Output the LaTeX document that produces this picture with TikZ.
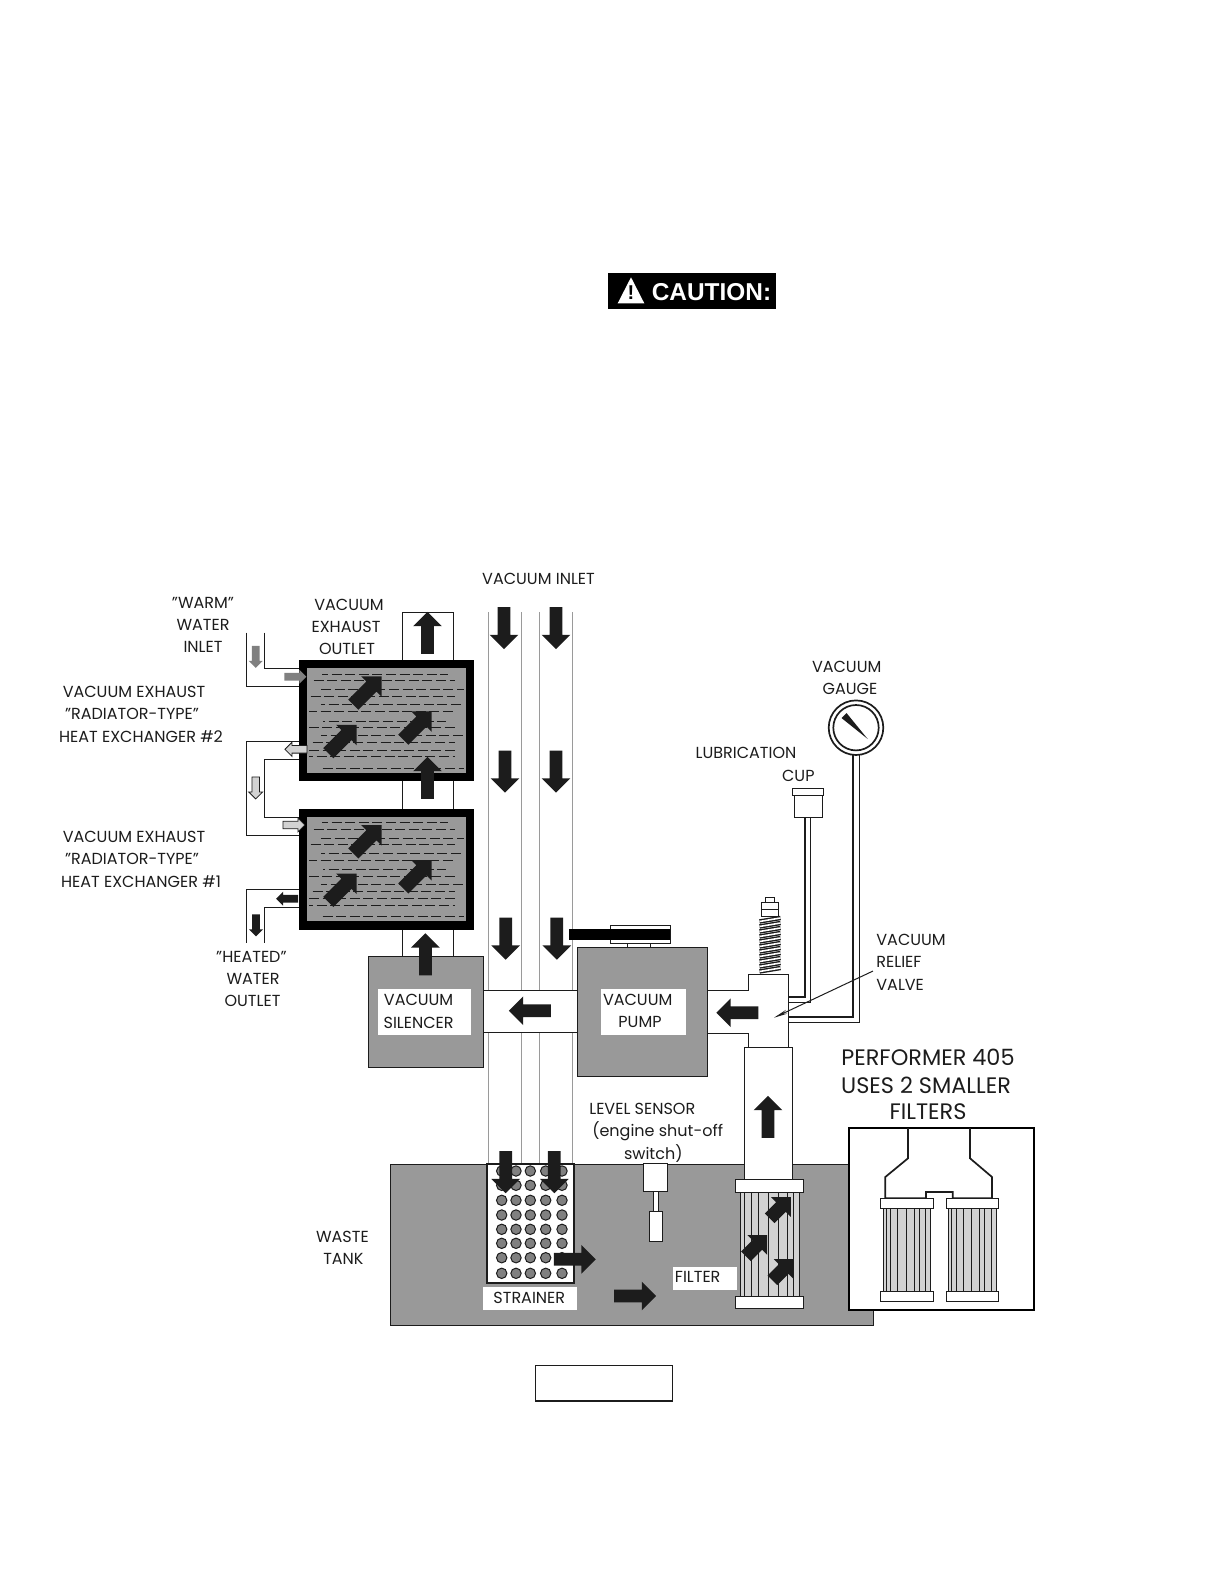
\documentclass[tikz,border=0pt]{standalone}
\usepackage{fontspec}
\setmainfont{Poppins}
\newfontfamily\cautionfont{Liberation Sans}
\usetikzlibrary{arrows.meta, positioning, shapes.arrows}
\definecolor{tankgray}{HTML}{999999}
\definecolor{inkdark}{HTML}{1C1C1C}
\definecolor{pipegray}{HTML}{9A9A9A}
\definecolor{elemgray}{HTML}{D2D2D2}
\definecolor{dotgray}{HTML}{808080}

\begin{document}
\begin{tikzpicture}[x=0.5pt, y=-0.5pt, line join=miter]
    \tikzstyle{lbl} = [inner sep=0pt, text=inkdark, font=\fontsize{8}{10}\selectfont]
    \tikzstyle{biglbl} = [lbl, font=\fontsize{11.2}{13}\selectfont]
    \tikzstyle{flow} = [xshift=-1.5pt, single arrow, fill=inkdark, inner xsep=0pt, inner ysep=3pt, outer sep=0pt, minimum width=14pt, minimum height=21pt, single arrow head extend=4pt]
    \tikzstyle{diagflow} = [rotate=45, flow, inner ysep=3.4pt, single arrow head extend=3.6pt, minimum height=20pt]
    \tikzstyle{smallflow} = [single arrow, inner xsep=0pt, inner ysep=1.7pt, outer sep=0pt, minimum width=6.5pt, minimum height=11pt, single arrow head extend=1.6pt]
    \tikzstyle{line1} = [draw=inkdark, line width=0.5pt]
    \tikzstyle{line2} = [draw=inkdark, line width=0.85pt]
    \tikzstyle{tube} = [draw=pipegray, line width=0.5pt]
    \tikzstyle{hxbox} = [draw=black, fill=tankgray, line width=4.2pt]
    \useasboundingbox (0,0) rectangle (1224,1584);
    % caution flag
    \fill[black] (608.3,273.3) rectangle (775.7,309);
    \fill[white] (631,277.3) -- (644.3,303.3) -- (617.7,303.3) -- cycle;
    \node[inner sep=0pt, font=\cautionfont\bfseries\fontsize{10}{11}\selectfont] (bang) at (631,293) {!};
    \node[inner sep=0pt, text=white, font=\cautionfont\bfseries\fontsize{12.2}{14}\selectfont] (caution) at (711.5,292.5) {CAUTION:};
    % waste tank
    \draw[line1, fill=tankgray] (390,1164) rectangle (873,1325.5);
    % vacuum inlet tubes
    \foreach \x in {488.6,521.4,539,572} \draw[tube] (\x,612) -- (\x,1164);
    % exhaust tube
    \draw[line1, fill=white] (402.5,956) -- (402.5,612) -- (453,612) -- (453,956);
    % heat exchangers
    \foreach \n/\o in {2/0,1/148.7} {
        \draw[hxbox] (303,664.2+\o) rectangle (470,776.8+\o);
        \foreach \r/\a/\b/\p in {14/322/448/2,20.7/310/455/5,29.3/321/464/0,36/309/455/6,44.3/321/464/3,51.7/309/455/1,61/323/446/4,67.7/309/455/7,75.7/321/464/2,82.7/309/455/5,90/309/455/0,96.7/309/455/3,108/321/464/6}
            \draw[inkdark, line width=0.4pt, dash pattern=on 5pt off 1.8pt, dash phase=\p pt] (\a,660+\o+\r) -- (\b,660+\o+\r);
        \foreach \i/\x/\y in {a/367/691,b/342/739.5,c/417/726}
            \node[diagflow] (hx\n\i) at (\x,\y+\o) {};
    }
    % water lines
    \draw[line1] (246,632.7) -- (246,686.7) -- (298.6,686.7);
    \draw[line1] (264.6,632.7) -- (264.6,668.3) -- (298.6,668.3);
    \draw[line1] (298.6,741) -- (246,741) -- (246,835.7) -- (298.6,835.7);
    \draw[line1] (298.6,759.3) -- (264.6,759.3) -- (264.6,817.3) -- (298.6,817.3);
    \draw[line1] (298.6,889) -- (246,889) -- (246,942.7);
    \draw[line1] (298.6,907.7) -- (264.6,907.7) -- (264.6,942.7);
    \node[smallflow, fill=dotgray, rotate=-90] (warmdown) at (255.7,655) {};
    \node[smallflow, fill=dotgray] (warmin) at (293.5,676.7) {};
    \node[smallflow, fill=elemgray, draw=inkdark, line width=0.4pt, rotate=180] (hxtwoout) at (297.8,749.3) {};
    \node[smallflow, fill=elemgray, draw=inkdark, line width=0.4pt, rotate=-90] (middown) at (255.7,786) {};
    \node[smallflow, fill=elemgray, draw=inkdark, line width=0.4pt] (hxonein) at (292,825) {};
    \node[smallflow, fill=inkdark, rotate=180] (hxoneout) at (289,898.7) {};
    \node[smallflow, fill=inkdark, rotate=-90] (heatdown) at (256,923.5) {};
    % silencer, pump and the pipe between them
    \fill[white] (483,990) rectangle (578,1032.7);
    \draw[line1] (483,990) -- (578,990) (483,1032.7) -- (578,1032.7);
    \draw[line1, fill=tankgray] (368,956) rectangle (483,1067.5);
    \draw[line1, fill=tankgray] (577.5,947) rectangle (707,1076);
    \fill[white] (378,989) rectangle (471.4,1034.7);
    \fill[white] (601,989) rectangle (686,1035);
    % pulley
    \draw[line1] (627.7,943.7) -- (627.7,947) (650,943.7) -- (650,947);
    \draw[line1, fill=white] (610.7,925.3) rectangle (670,943.7);
    \fill[black] (568.7,929) rectangle (670,940);
    % tee, relief valve and filter pipe
    \draw[line1, fill=white] (707,990) -- (748,990) -- (748,974) -- (788,974) -- (788,1047) -- (748,1047) -- (748,1033) -- (707,1033) -- cycle;
    \draw[line1, fill=white] (744,1179) -- (744,1047) -- (792.5,1047) -- (792.5,1179);
    \draw[line1, fill=white] (765.3,897.3) rectangle (774.3,902.3);
    \draw[line1, fill=white] (761.7,902.3) rectangle (778.3,916.7);
    \draw[line1] (761.7,909) -- (778.3,909);
    \foreach \s in {0,...,10}
        \draw[inkdark, line width=0.7pt, double=white, double distance=0.8pt] (759.5,921.5+\s*5) -- (780.5,918+\s*5);
    % lube cup and gauge
    \draw[line1, fill=white] (794.3,795.7) rectangle (822.3,817.7);
    \draw[line1, fill=white] (792.3,788) rectangle (823.3,795.7);
    \draw[line2] (805,817.7) -- (805,996.7) -- (788.3,996.7);
    \draw[line1] (810.3,817.7) -- (810.3,1002.7) -- (788.3,1002.7);
    \draw[line2] (853.3,755) -- (853.3,1016.7) -- (788.3,1016.7);
    \draw[line1] (859,755) -- (859,1022.7) -- (788.3,1022.7);
    \draw[line2, fill=white] (856,727.7) circle [radius=27.3];
    \draw[line2] (856,727.7) circle [radius=22.7];
    \fill[inkdark] (846.5,713) -- (841.5,718) -- (867.7,739) -- cycle;
    % filter
    \draw[line1, fill=white] (735.7,1179) rectangle (803,1192);
    \draw[line1, fill=elemgray] (740,1192) rectangle (799,1296);
    \foreach \x in {744,751,758,768,778,787,793} \draw[line1] (\x,1192) -- (\x,1296);
    \draw[line1, fill=white] (735.7,1296) rectangle (803,1308);
    \foreach \i/\x/\y in {a/780/1208,b/756.3/1246,c/782.7/1270}
        \node[diagflow, minimum height=15pt, inner ysep=2.8pt, single arrow head extend=3.2pt] (filt\i) at (\x,\y) {};
    % strainer
    \draw[line2, fill=white] (487,1164) rectangle (574,1283);
    \foreach \y in {1171,1185.3,1200.3,1215,1229.3,1243.3,1257.7,1273.3}
        \foreach \x in {501.7,516,530.3,545.7,562}
            \draw[line1, fill=dotgray] (\x,\y) circle [radius=5.2];
    \fill[white] (483,1286.7) rectangle (576.7,1310);
    \fill[white] (673.3,1266.7) rectangle (737,1290);
    % level sensor
    \draw[line1, fill=white] (653.7,1191.7) rectangle (658,1211.7);
    \draw[line1, fill=white] (643.3,1163.5) rectangle (667.7,1191.7);
    \draw[line1, fill=white] (649.7,1211.7) rectangle (662,1241.7);
    % dual filter inset
    \draw[draw=black, line width=1.2pt, fill=white] (849,1128) rectangle (1034,1310);
    \draw[line2] (908,1128) -- (908,1158.3) -- (885.3,1177) -- (885.3,1198.3) -- (926,1198.3) -- (926,1192) -- (952.7,1192) -- (952.7,1198.3) -- (992,1198.3) -- (992,1177) -- (970,1158.3) -- (970,1128);
    \foreach \o in {0,65.3} {
        \draw[line1, fill=elemgray] (883+\o,1208.3) rectangle (930.7+\o,1291.7);
        \foreach \x in {886.3,890.7,897.7,906,914,919.3,925.7} \draw[line1] (\x+\o,1208.3) -- (\x+\o,1291.7);
        \draw[line1, fill=white] (880.7+\o,1198.7) rectangle (933.3+\o,1208.3);
        \draw[line1, fill=white] (880.7+\o,1291.7) rectangle (933.3+\o,1301.7);
    }
    % empty figure box
    \draw[line1, line width=0.7pt] (535.7,1365.3) rectangle (672.3,1401);
    % flow arrows
    \foreach \n/\x/\y/\r in {out/427.5/633/90,ina/504/628/-90,inb/556/628/-90,inc/505/771.5/-90,ind/556/771.5/-90,ine/505.7/938.5/-90,inf/556.8/938.5/-90,hxup/427.5/778/90,silup/425.4/954.5/90,pipeleft/530/1010.7/180,teeleft/737.5/1012.7/180,filtup/768/1117/90,stra/505.7/1172/-90,strb/554.3/1172/-90,right/574.6/1259.3/0,tank/635/1296/0}
        \node[rotate=\r, flow] (flow\n) at (\x,\y) {};
    % labels
    \node[lbl] (vacinlet) at (538.5,579) {VACUUM INLET};
    \node[lbl] (warma) at (203,603) {"WARM"};
    \node[lbl] (warmb) at (203,625) {WATER};
    \node[lbl] (warmc) at (203,647) {INLET};
    \node[lbl] (exha) at (349,605) {VACUUM};
    \node[lbl] (exhb) at (346,627) {EXHAUST};
    \node[lbl] (exhc) at (347,649) {OUTLET};
    \node[lbl] (twoa) at (134,691.7) {VACUUM EXHAUST};
    \node[lbl] (twob) at (132,714) {"RADIATOR-TYPE"};
    \node[lbl] (twoc) at (141,736.7) {HEAT EXCHANGER \#2};
    \node[lbl] (onea) at (134,836.7) {VACUUM EXHAUST};
    \node[lbl] (oneb) at (132,859) {"RADIATOR-TYPE"};
    \node[lbl] (onec) at (141,881.7) {HEAT EXCHANGER \#1};
    \node[lbl] (heata) at (251.4,956.7) {"HEATED"};
    \node[lbl] (heatb) at (253,979) {WATER};
    \node[lbl] (heatc) at (252.5,1001) {OUTLET};
    \node[lbl] (sila) at (418.6,1000) {VACUUM};
    \node[lbl] (silb) at (418.6,1022.7) {SILENCER};
    \node[lbl] (pumpa) at (637.7,1000) {VACUUM};
    \node[lbl] (pumpb) at (640,1022) {PUMP};
    \node[lbl] (gaugea) at (846.7,666.7) {VACUUM};
    \node[lbl] (gaugeb) at (850,689) {GAUGE};
    \node[lbl] (luba) at (746,753.3) {LUBRICATION};
    \node[lbl] (lubb) at (798.3,775.7) {CUP};
    \node[lbl, anchor=west] (reliefa) at (876,940) {VACUUM};
    \node[lbl, anchor=west] (reliefb) at (876,962.3) {RELIEF};
    \node[lbl, anchor=west] (reliefc) at (876,985) {VALVE};
    \node[lbl] (levela) at (642.3,1108.7) {LEVEL SENSOR};
    \node[lbl] (levelb) at (657.7,1131.3) {(engine shut-off};
    \node[lbl] (levelc) at (653.3,1154) {switch)};
    \node[lbl] (wastea) at (342.4,1237) {WASTE};
    \node[lbl] (wasteb) at (343.4,1259) {TANK};
    \node[lbl] (strainer) at (529.3,1297.7) {STRAINER};
    \node[lbl] (filter) at (697.7,1277.3) {FILTER};
    \node[biglbl] (perfa) at (928,1057.5) {PERFORMER 405};
    \node[biglbl] (perfb) at (926,1085) {USES 2 SMALLER};
    \node[biglbl] (perfc) at (928,1112) {FILTERS};
    % relief valve leader
    \coordinate (relieftip) at (774,1017.7);
    \draw[inkdark, line width=0.5pt, -{Stealth[length=7pt, width=2pt]}] (reliefc.north west) ++(-3,-8) -- (relieftip);
\end{tikzpicture}
\end{document}
